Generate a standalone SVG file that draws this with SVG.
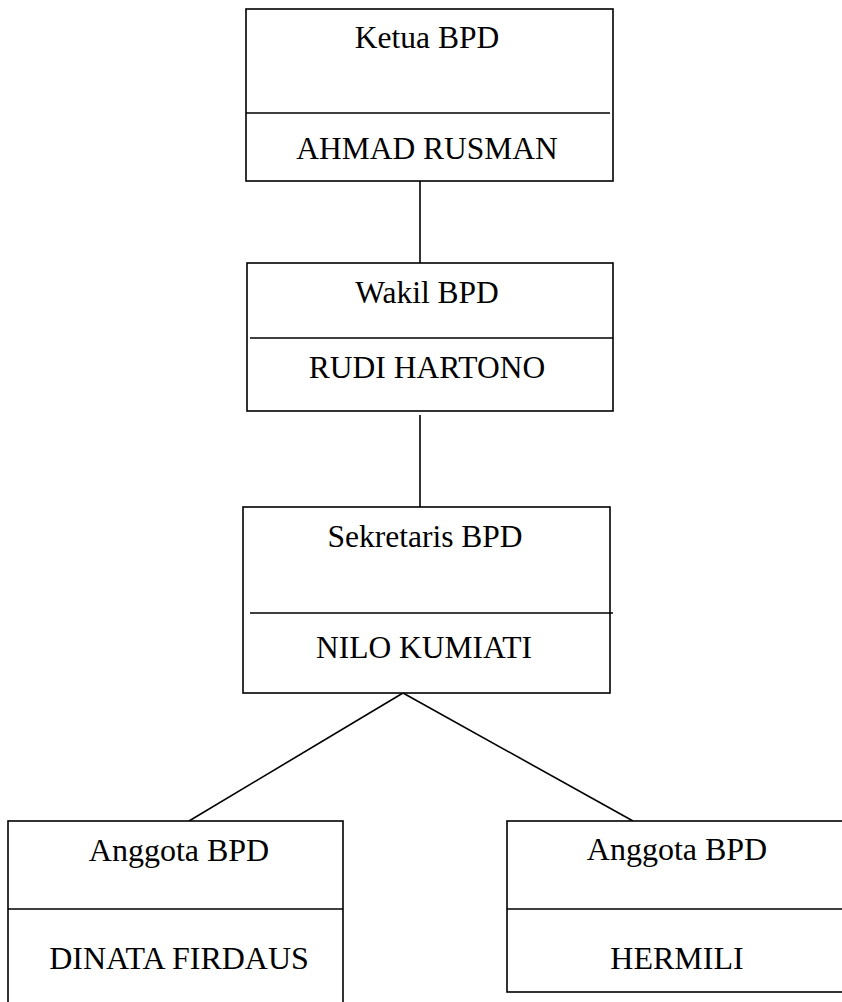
<svg xmlns="http://www.w3.org/2000/svg" width="842" height="1002" viewBox="0 0 842 1002">
<style>
.box{fill:#fff;stroke:#000;stroke-width:1.6}
.ln{stroke:#000;stroke-width:1.6;fill:none}
.t{font-family:"Liberation Serif","Times New Roman",serif;font-size:31.5px;fill:#000;text-anchor:middle}
.b{font-size:32px}
</style>
<rect width="842" height="1002" fill="#fff"/>
<g id="connectors">
<line class="ln" x1="420" y1="181" x2="420" y2="263"/>
<line class="ln" x1="420" y1="415" x2="420" y2="507"/>
<line class="ln" x1="403" y1="693" x2="189" y2="821"/>
<line class="ln" x1="403" y1="693" x2="633" y2="821"/>
</g>
<g id="ketua">
<rect class="box" x="246" y="9" width="367" height="172"/>
<line class="ln" x1="246" y1="113" x2="610" y2="113"/>
<text class="t" x="427" y="48">Ketua BPD</text>
<text class="t" x="427" y="159">AHMAD RUSMAN</text>
</g>
<g id="wakil">
<rect class="box" x="247" y="263" width="366" height="148"/>
<line class="ln" x1="250" y1="338" x2="613" y2="338"/>
<text class="t" x="427" y="303">Wakil BPD</text>
<text class="t" x="427" y="378">RUDI HARTONO</text>
</g>
<g id="sekretaris">
<rect class="box" x="243" y="507" width="367" height="186"/>
<line class="ln" x1="250" y1="613" x2="613" y2="613"/>
<text class="t" x="425" y="547">Sekretaris BPD</text>
<text class="t" x="424" y="658">NILO KUMIATI</text>
</g>
<g id="anggota1">
<rect class="box" x="8" y="821" width="335" height="200"/>
<line class="ln" x1="8" y1="909" x2="343" y2="909"/>
<text class="t b" x="179" y="861">Anggota BPD</text>
<text class="t b" x="179" y="969">DINATA FIRDAUS</text>
</g>
<g id="anggota2">
<rect class="box" x="507" y="821" width="345" height="171"/>
<line class="ln" x1="507" y1="909" x2="852" y2="909"/>
<text class="t b" x="677" y="860">Anggota BPD</text>
<text class="t b" x="677" y="969">HERMILI</text>
</g>
</svg>
